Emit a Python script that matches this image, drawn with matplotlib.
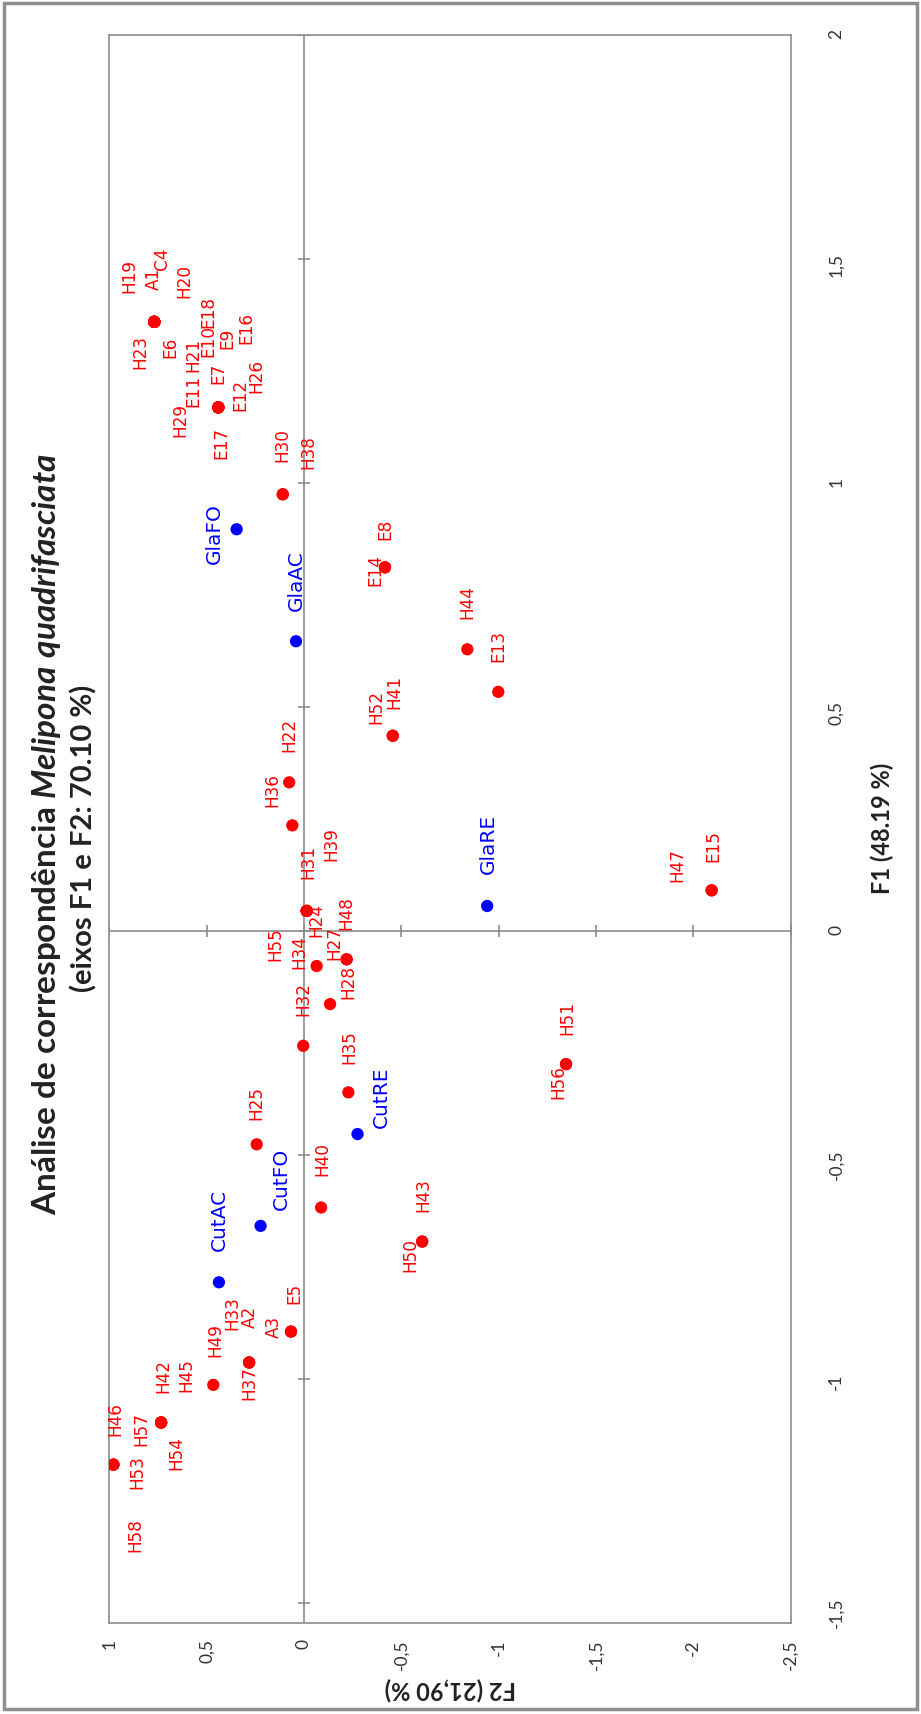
import matplotlib.pyplot as plt
from matplotlib.ticker import FuncFormatter
from matplotlib.patches import Rectangle

plt.rcParams['mathtext.fontset'] = 'custom'
plt.rcParams['mathtext.it'] = 'Lato:italic:bold'
plt.rcParams['mathtext.rm'] = 'Lato:bold'

# Row points (observations); labels that share a position repeat its coordinates
obs_names = ['H19', 'A1', 'C4', 'H20', 'H23', 'E6', 'H21', 'E10', 'E18', 'E9', 'E16',
             'E11', 'E7', 'E12', 'H26', 'H29', 'E17',
             'H30', 'H38',
             'E14', 'E8', 'H44', 'E13', 'H41', 'H52', 'H22', 'H36',
             'H31', 'H39', 'H24', 'H55',
             'E15', 'H47',
             'H34', 'H48', 'H28', 'H27', 'H32', 'H35',
             'H51', 'H56', 'H25', 'H40', 'H43', 'H50',
             'E5', 'A3', 'A2', 'H33', 'H37', 'H49',
             'H42', 'H45', 'H57', 'H54', 'H46', 'H53', 'H58']
obs_f1 = [1.359] * 11 + [1.168] * 6 + [0.974] * 2 + \
         [0.811, 0.811, 0.628, 0.533, 0.435, 0.435, 0.331, 0.235] + \
         [0.044] * 4 + [0.090] * 2 + \
         [-0.079, -0.064, -0.064, -0.164, -0.257, -0.361] + \
         [-0.298, -0.298, -0.477, -0.618, -0.694, -0.694] + \
         [-0.895, -0.895, -0.964, -0.964, -0.964, -1.014] + \
         [-1.098] * 4 + [-1.192] * 3
obs_f2 = [0.769] * 11 + [0.440] * 6 + [0.109] * 2 + \
         [-0.416, -0.416, -0.839, -0.998, -0.456, -0.456, 0.076, 0.060] + \
         [-0.014] * 4 + [-2.094] * 2 + \
         [-0.065, -0.219, -0.219, -0.134, 0.004, -0.228] + \
         [-1.346, -1.346, 0.243, -0.088, -0.607, -0.607] + \
         [0.067, 0.067, 0.282, 0.282, 0.282, 0.466] + \
         [0.734] * 4 + [0.979] * 3

# Column points (variables)
var_names = ['GlaFO', 'GlaAC', 'GlaRE', 'CutRE', 'CutFO', 'CutAC']
var_f1 = [0.896, 0.646, 0.055, -0.454, -0.659, -0.785]
var_f2 = [0.346, 0.041, -0.941, -0.275, 0.223, 0.437]

f1_ticks = [-1.5, -1, -0.5, 0, 0.5, 1, 1.5, 2]
f2_ticks = [1, 0.5, 0, -0.5, -1, -1.5, -2, -2.5]

# label placement around each point (pixels: right, down)
label_offsets = {
    'H19': (-25, -47), 'A1': (0, -44), 'C4': (8, -64), 'H20': (30, -42),
    'H23': (-14, 29), 'E6': (16, 25), 'H21': (39, 32), 'E10': (54, 18),
    'E18': (54, -11), 'E9': (73, 16), 'E16': (92, 5),
    'E11': (-25, -17), 'E7': (0, -35), 'E12': (22, -13), 'H26': (38, -32),
    'H29': (-38, 12), 'E17': (3, 35),
    'H30': (0, -50), 'H38': (26, -43),
    'E14': (-10, 2), 'E8': (0, -39), 'H44': (0, -48), 'E13': (0, -47),
    'H41': (2, -45), 'H52': (-16, -30), 'H22': (0, -48), 'H36': (-20, -36),
    'H31': (2, -50), 'H39': (25, -68), 'H24': (10, 8), 'H55': (-31, 32),
    'E15': (2, -45), 'H47': (-34, -26),
    'H34': (-17, -15), 'H48': (0, -47), 'H28': (2, 22), 'H27': (4, -62),
    'H32': (0, -48), 'H35': (1, -46),
    'H51': (1, -47), 'H56': (-8, 17), 'H25': (0, -42), 'H40': (1, -49),
    'H43': (1, -47), 'H50': (-12, 12),
    'E5': (3, -39), 'A3': (-17, -6), 'A2': (1, -47), 'H33': (-17, -50),
    'H37': (0, 20), 'H49': (2, -46),
    'H42': (2, -48), 'H45': (25, -48), 'H57': (-20, 5), 'H54': (15, 30),
    'H46': (2, -47), 'H53': (24, 6), 'H58': (22, 69),
    'GlaFO': (-22, 3), 'GlaAC': (0, -62), 'GlaRE': (1, -63),
    'CutRE': (24, -38), 'CutFO': (21, -48), 'CutAC': (0, -63),
}

gray = '#8c8c8c'
red = '#ff0000'
blue = '#0000ff'
dark = '#222222'

fig = plt.figure(figsize=(9.21, 17.15), dpi=100)
ax = fig.add_axes([0.1187, 0.0532, 0.7398, 0.9260])
ax.set_xlim(1, -2.5)
ax.set_ylim(-1.545, 2)

for s in ax.spines.values():
    s.set_color(gray)
    s.set_linewidth(1.2)

# axes through the origin with cross ticks
ax.axvline(0, color=gray, lw=1.2, zorder=1)
ax.axhline(0, color=gray, lw=1.2, zorder=1)
ax.plot([0] * len(f1_ticks), f1_ticks, ls='none', marker='_', ms=9, mew=1.2, color=gray, zorder=1)
ax.plot(f2_ticks, [0] * len(f2_ticks), ls='none', marker='|', ms=9, mew=1.2, color=gray, zorder=1)

fmt = FuncFormatter(lambda v, p: f'{v:g}'.replace('.', ','))
ax.yaxis.tick_right()
ax.set_yticks(f1_ticks)
ax.set_xticks(f2_ticks)
ax.xaxis.set_major_formatter(fmt)
ax.yaxis.set_major_formatter(fmt)
ax.tick_params(axis='y', length=0, pad=27, labelrotation=90, labelsize=12.5, labelcolor='#333333')
ax.tick_params(axis='x', length=0, pad=11, labelrotation=90, labelsize=12.5, labelcolor='#333333')
for lab in ax.get_xticklabels() + ax.get_yticklabels():
    lab.set_family('Lato')

ax.scatter(obs_f2, obs_f1, s=78, color=red, edgecolors='none', zorder=3)
ax.scatter(var_f2, var_f1, s=78, color=blue, edgecolors='none', zorder=3)

for name, f1, f2 in zip(obs_names, obs_f1, obs_f2):
    dx, dy = label_offsets[name]
    ax.annotate(name, (f2, f1), xytext=(dx, -dy), textcoords='offset pixels',
                rotation=90, ha='center', va='center', color=red, fontsize=12.2)
for name, f1, f2 in zip(var_names, var_f1, var_f2):
    dx, dy = label_offsets[name]
    ax.annotate(name, (f2, f1), xytext=(dx, -dy), textcoords='offset pixels',
                rotation=90, ha='center', va='center', color=blue, fontsize=14.5)

fig.text(47 / 921, 1 - 834 / 1715,
         'Análise de correspondência $\\mathit{Melipona\\ quadrifasciata}$',
         rotation=90, ha='center', va='center', fontsize=24, fontweight='bold',
         family='Lato', color=dark)
fig.text(84 / 921, 1 - 838 / 1715, '(eixos F1 e F2: 70.10 %)',
         rotation=90, ha='center', va='center', fontsize=21, fontweight='bold',
         family='Lato', color=dark)
fig.text(882 / 921, 1 - 828 / 1715, 'F1 (48.19 %)', rotation=90,
         ha='center', va='center', fontsize=17, fontweight='bold', family='Lato',
         color=dark)
fig.text(450 / 921, 1 - 1689 / 1715, 'F2 (21,90 %)', rotation=180,
         ha='center', va='center', fontsize=17, fontweight='bold', family='Lato',
         color=dark)

fig.add_artist(Rectangle((0.0043, 0.0029), 0.9913, 0.9948, transform=fig.transFigure,
                         fill=False, edgecolor='#8f8f8f', lw=2.5))

fig.savefig('out.png', dpi=100)
